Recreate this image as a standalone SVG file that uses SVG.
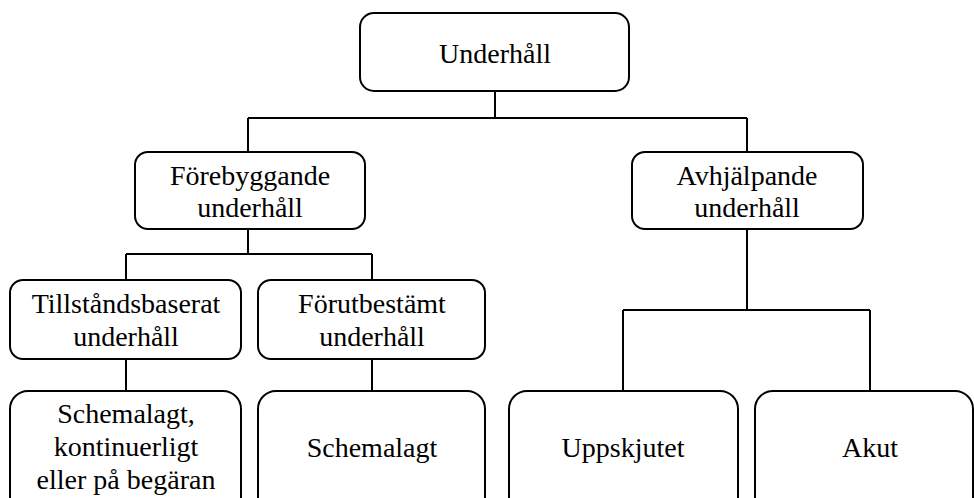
<svg xmlns="http://www.w3.org/2000/svg" width="974" height="498" viewBox="0 0 974 498">
<style>
.box{fill:#fff;stroke:#000;stroke-width:2}
.ln{fill:none;stroke:#000;stroke-width:2}
.t{font-family:'Liberation Serif','DejaVu Serif',serif;font-size:28px;fill:#000;text-anchor:middle}
</style>
<rect width="974" height="498" fill="#fff"/>
<g id="connectors">
<path class="ln" d="M495,91 V118 M248,118 H747 M248,118 V152 M747,118 V152"/>
<path class="ln" d="M248,229 V254 M126,254 H372 M126,254 V280 M372,254 V280"/>
<path class="ln" d="M126,359 V391 M372,359 V391"/>
<path class="ln" d="M747,229 V310 M623,310 H870 M623,310 V391 M870,310 V391"/>
</g>
<g id="n-underhall"><rect class="box" x="360" y="13" width="269" height="78" rx="14"/><text class="t" x="495" y="63">Underhåll</text></g>
<g id="n-forebyggande"><rect class="box" x="135" y="152" width="230" height="77" rx="13"/><text class="t" x="250" y="185">Förebyggande</text><text class="t" x="250" y="217">underhåll</text></g>
<g id="n-avhjalpande"><rect class="box" x="632" y="152" width="231" height="77" rx="13"/><text class="t" x="747" y="185">Avhjälpande</text><text class="t" x="747" y="217">underhåll</text></g>
<g id="n-tillstand"><rect class="box" x="10" y="280" width="231" height="79" rx="13"/><text class="t" x="126" y="313">Tillståndsbaserat</text><text class="t" x="126" y="346">underhåll</text></g>
<g id="n-forutbestamt"><rect class="box" x="258" y="280" width="227" height="79" rx="13"/><text class="t" x="372" y="313">Förutbestämt</text><text class="t" x="372" y="346">underhåll</text></g>
<g id="n-schemalagt1"><rect class="box" x="10" y="391" width="231" height="130" rx="18"/><text class="t" x="126" y="423">Schemalagt,</text><text class="t" x="126" y="456">kontinuerligt</text><text class="t" x="126" y="489">eller på begäran</text></g>
<g id="n-schemalagt2"><rect class="box" x="258" y="391" width="227" height="130" rx="18"/><text class="t" x="372" y="457">Schemalagt</text></g>
<g id="n-uppskjutet"><rect class="box" x="509" y="391" width="229" height="130" rx="18"/><text class="t" x="623" y="457">Uppskjutet</text></g>
<g id="n-akut"><rect class="box" x="755" y="391" width="218" height="130" rx="18"/><text class="t" x="870" y="457">Akut</text></g>
</svg>
